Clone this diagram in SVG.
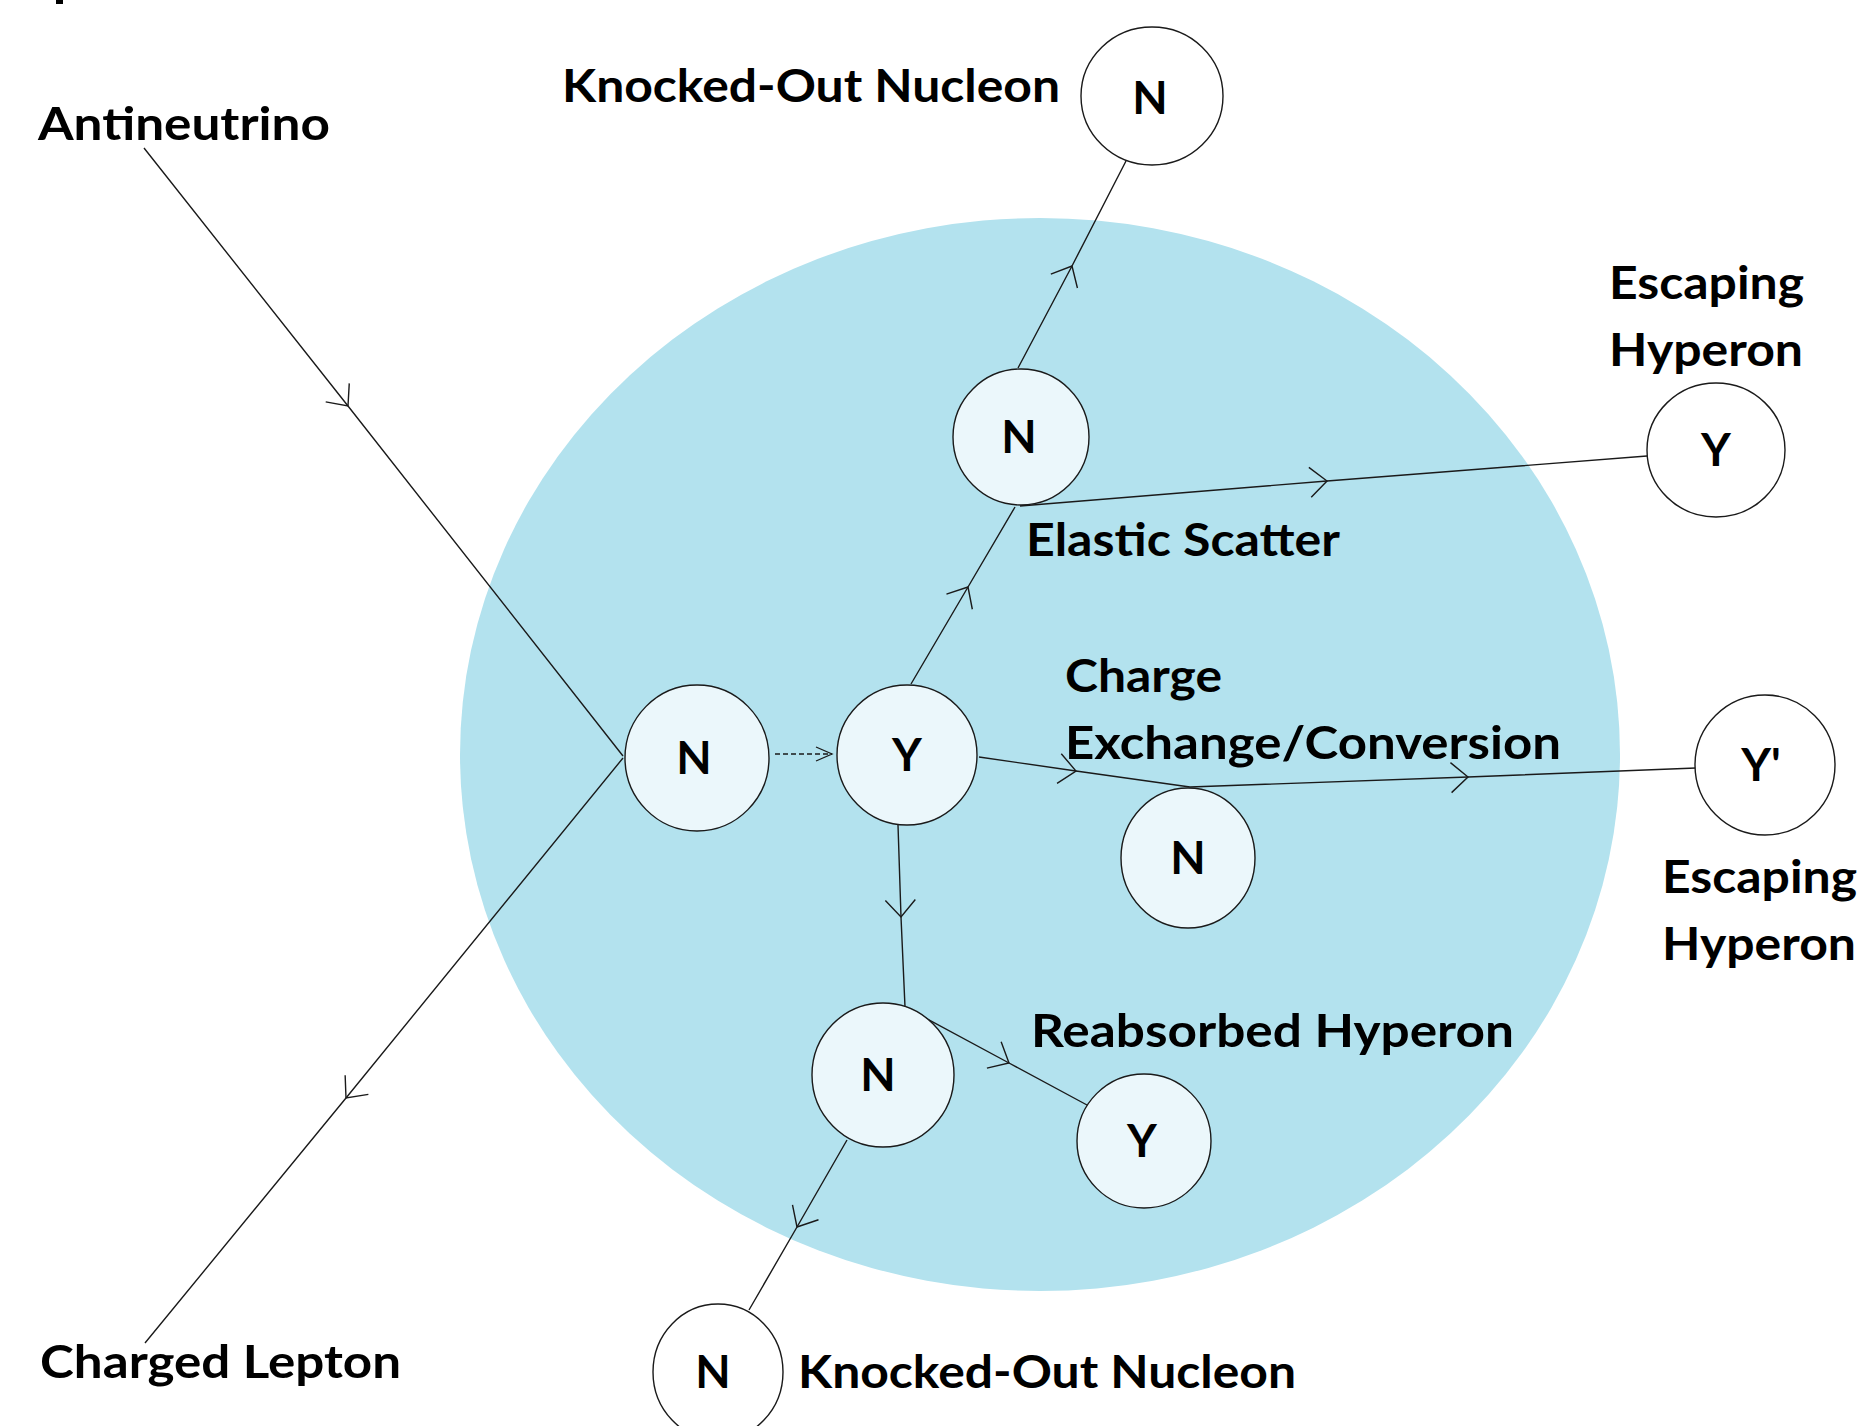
<svg xmlns="http://www.w3.org/2000/svg" width="1860" height="1426" viewBox="0 0 1860 1426">
<style>
.lbl{font-family:Lato,"Open Sans","Liberation Sans",sans-serif;font-weight:700;font-size:46px;fill:#000}
.nl{font-family:Lato,"Open Sans","Liberation Sans",sans-serif;font-weight:700;font-size:46px;fill:#000;text-anchor:middle}
.inner{fill:#ebf7fb;stroke:#1a1a1a;stroke-width:1.4}
.outer{fill:#ffffff;stroke:#1a1a1a;stroke-width:1.4}
.ln{fill:none;stroke:#1a1a1a;stroke-width:1.4}
</style>
<defs>
<marker id="arr" markerUnits="userSpaceOnUse" viewBox="-20 -17 22 34" markerWidth="22" markerHeight="34" refX="0" refY="0" orient="auto" overflow="visible">
<path d="M-17,-15 L0,0 L-17,15" fill="none" stroke="#1a1a1a" stroke-width="1.4" stroke-dasharray="none"/>
</marker>
<marker id="arrs" markerUnits="userSpaceOnUse" viewBox="-18 -9 20 18" markerWidth="20" markerHeight="18" refX="0" refY="0" orient="auto" overflow="visible">
<path d="M-16,-7 L0,0 L-16,7" fill="none" stroke="#1a1a1a" stroke-width="1.3" stroke-dasharray="none"/>
</marker>
</defs>
<rect x="0" y="0" width="1860" height="1426" fill="#ffffff"/>
<rect x="56" y="0" width="7" height="4" fill="#000"/>
<g id="nucleus">
<ellipse cx="1040" cy="754.5" rx="580" ry="536.5" fill="#b3e2ee"/>
</g>
<g id="connectors">
<path class="ln" d="M144,148 L348,406 L623,756" marker-mid="url(#arr)"/>
<path class="ln" d="M623,758 L346,1098 L145,1343" marker-mid="url(#arr)"/>
<path class="ln" d="M775,754 L832,754" stroke-dasharray="5,3" marker-end="url(#arrs)"/>
<path class="ln" d="M911,684 L968,587 L1015,507" marker-mid="url(#arr)"/>
<path class="ln" d="M1018,368 L1072,266 L1126,161" marker-mid="url(#arr)"/>
<path class="ln" d="M1020,506 L1327,481 L1647,456" marker-mid="url(#arr)"/>
<path class="ln" d="M979,757 L1076,771 L1190,787" marker-mid="url(#arr)"/>
<path class="ln" d="M1190,787 L1468,777 L1696,768" marker-mid="url(#arr)"/>
<path class="ln" d="M898,825 L901,917 L905,1007" marker-mid="url(#arr)"/>
<path class="ln" d="M905,1007 L1009,1063 L1087,1105" marker-mid="url(#arr)"/>
<path class="ln" d="M847,1140 L797,1227 L749,1310" marker-mid="url(#arr)"/>
</g>
<g id="node-knocked-top">
<ellipse class="outer" cx="1152" cy="96" rx="71" ry="69"/>
<text class="nl" x="1150" y="114">N</text>
</g>
<g id="node-elastic-n">
<ellipse class="inner" cx="1021" cy="437" rx="68" ry="68"/>
<text class="nl" x="1019" y="453">N</text>
</g>
<g id="node-initial-n">
<ellipse class="inner" cx="697" cy="758" rx="72" ry="73"/>
<text class="nl" x="694" y="774">N</text>
</g>
<g id="node-y">
<ellipse class="inner" cx="907" cy="755" rx="70" ry="70"/>
<text class="nl" x="907" y="771">Y</text>
</g>
<g id="node-exchange-n">
<ellipse class="inner" cx="1188" cy="858" rx="67" ry="70"/>
<text class="nl" x="1188" y="874">N</text>
</g>
<g id="node-lower-n">
<ellipse class="inner" cx="883" cy="1075" rx="71" ry="72"/>
<text class="nl" x="878" y="1091">N</text>
</g>
<g id="node-reabsorbed-y">
<ellipse class="inner" cx="1144" cy="1141" rx="67" ry="67"/>
<text class="nl" x="1142" y="1157">Y</text>
</g>
<g id="node-knocked-bottom">
<ellipse class="outer" cx="718" cy="1372" rx="65" ry="68"/>
<text class="nl" x="713" y="1388">N</text>
</g>
<g id="node-escaping-y">
<ellipse class="outer" cx="1716" cy="450" rx="69" ry="67"/>
<text class="nl" x="1716" y="466">Y</text>
</g>
<g id="node-escaping-y2">
<ellipse class="outer" cx="1765" cy="765" rx="70" ry="70"/>
<text class="nl" x="1761" y="781">Y'</text>
</g>
<g id="labels">
<text class="lbl" x="38" y="140" textLength="292" lengthAdjust="spacingAndGlyphs">Antineutrino</text>
<text class="lbl" x="562" y="102" textLength="498" lengthAdjust="spacingAndGlyphs">Knocked-Out Nucleon</text>
<text class="lbl" x="1609" y="299" textLength="195" lengthAdjust="spacingAndGlyphs">Escaping</text>
<text class="lbl" x="1609" y="366" textLength="194" lengthAdjust="spacingAndGlyphs">Hyperon</text>
<text class="lbl" x="1026" y="556" textLength="314" lengthAdjust="spacingAndGlyphs">Elastic Scatter</text>
<text class="lbl" x="1065" y="692" textLength="157" lengthAdjust="spacingAndGlyphs">Charge</text>
<text class="lbl" x="1065" y="759" textLength="496" lengthAdjust="spacingAndGlyphs">Exchange/Conversion</text>
<text class="lbl" x="1662" y="893" textLength="195" lengthAdjust="spacingAndGlyphs">Escaping</text>
<text class="lbl" x="1662" y="960" textLength="194" lengthAdjust="spacingAndGlyphs">Hyperon</text>
<text class="lbl" x="1031" y="1047" textLength="483" lengthAdjust="spacingAndGlyphs">Reabsorbed Hyperon</text>
<text class="lbl" x="798" y="1388" textLength="498" lengthAdjust="spacingAndGlyphs">Knocked-Out Nucleon</text>
<text class="lbl" x="40" y="1378" textLength="361" lengthAdjust="spacingAndGlyphs">Charged Lepton</text>
</g>
</svg>
